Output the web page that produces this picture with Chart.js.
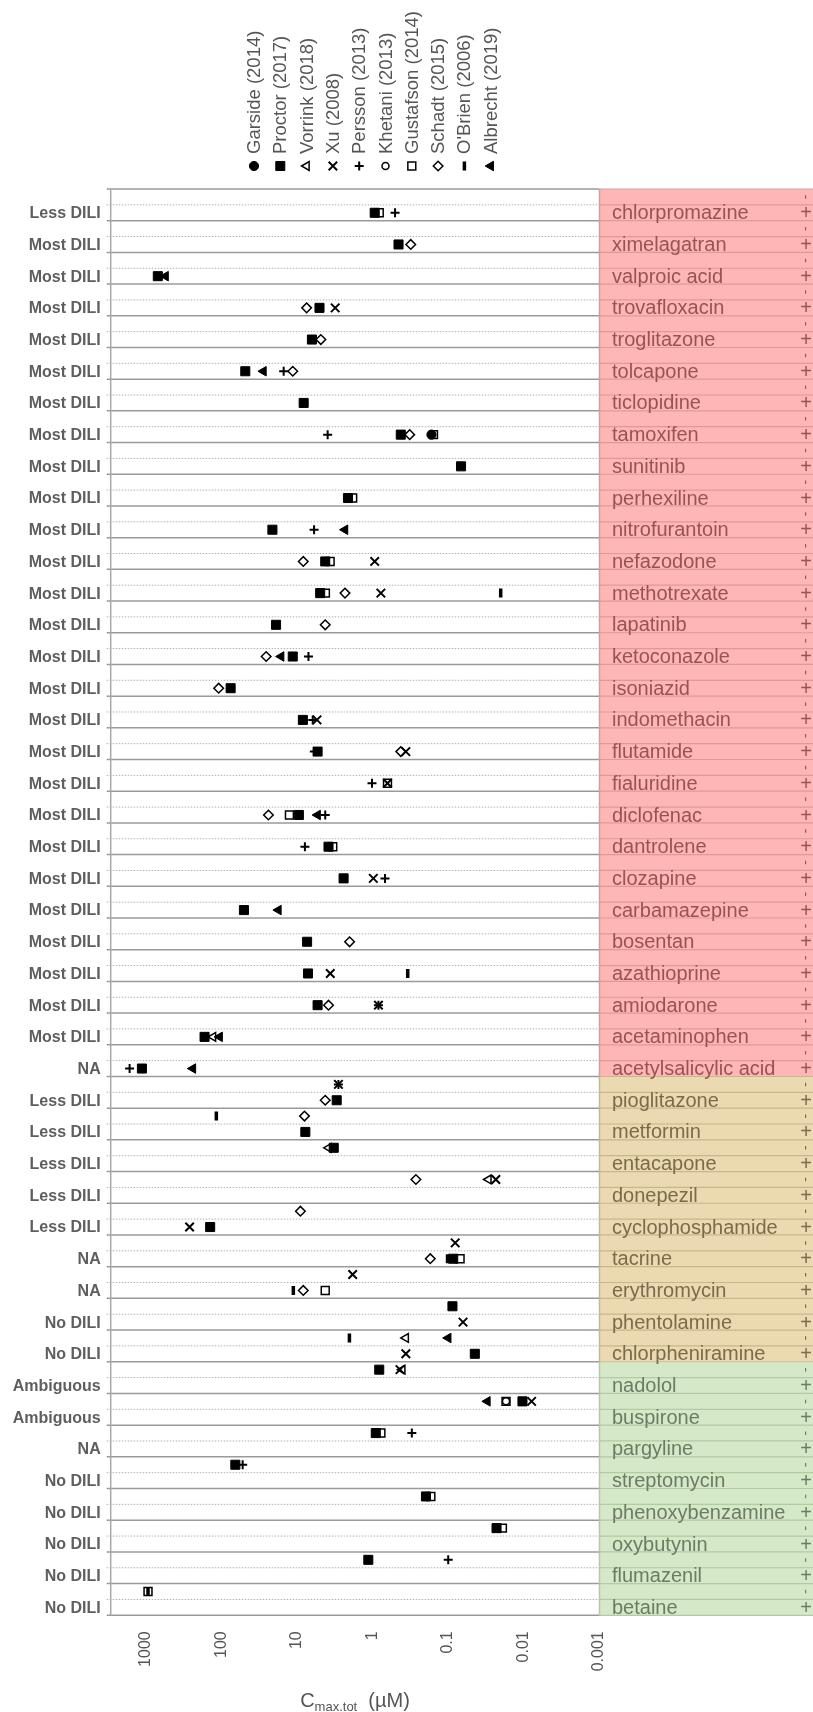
<!DOCTYPE html>
<html>
<head>
<meta charset="utf-8">
<script src="https://cdn.jsdelivr.net/npm/chart.js@4"></script>
<style>
  html, body { margin: 0; padding: 0; background: #fff; }
  #wrap { width: 813px; height: 1712px; }
</style>
</head>
<body>
<div id="wrap"><canvas id="chart"></canvas></div>
<script>
// drugs from top to bottom, each one has a "-" row and a "+" row
var drugs = [
    'chlorpromazine', 'ximelagatran', 'valproic acid', 'trovafloxacin', 'troglitazone',
    'tolcapone', 'ticlopidine', 'tamoxifen', 'sunitinib', 'perhexiline',
    'nitrofurantoin', 'nefazodone', 'methotrexate', 'lapatinib', 'ketoconazole',
    'isoniazid', 'indomethacin', 'flutamide', 'fialuridine', 'diclofenac',
    'dantrolene', 'clozapine', 'carbamazepine', 'bosentan', 'azathioprine',
    'amiodarone', 'acetaminophen', 'acetylsalicylic acid',
    'pioglitazone', 'metformin', 'entacapone', 'donepezil', 'cyclophosphamide',
    'tacrine', 'erythromycin', 'phentolamine', 'chlorpheniramine',
    'nadolol', 'buspirone', 'pargyline', 'streptomycin', 'phenoxybenzamine',
    'oxybutynin', 'flumazenil', 'betaine',
];
var diliLabels = [
    'Less DILI', 'Most DILI', 'Most DILI', 'Most DILI', 'Most DILI',
    'Most DILI', 'Most DILI', 'Most DILI', 'Most DILI', 'Most DILI',
    'Most DILI', 'Most DILI', 'Most DILI', 'Most DILI', 'Most DILI',
    'Most DILI', 'Most DILI', 'Most DILI', 'Most DILI', 'Most DILI',
    'Most DILI', 'Most DILI', 'Most DILI', 'Most DILI', 'Most DILI',
    'Most DILI', 'Most DILI', 'NA',
    'Less DILI', 'Less DILI', 'Less DILI', 'Less DILI', 'Less DILI',
    'NA', 'NA', 'No DILI', 'No DILI',
    'Ambiguous', 'Ambiguous', 'NA', 'No DILI', 'No DILI',
    'No DILI', 'No DILI', 'No DILI',
];
// how many drugs sit in the red, tan and green blocks
var groupSizes = [28, 9, 8];

var studies = [
    'Garside (2014)', 'Proctor (2017)', 'Vorrink (2018)', 'Xu (2008)', 'Persson (2013)',
    'Khetani (2013)', 'Gustafson (2014)', 'Schadt (2015)', "O'Brien (2006)", 'Albrecht (2019)',
];

var xTicks = [1000, 100, 10, 1, 0.1, 0.01, 0.001];

// [drug, row, Cmax,tot in uM]
var garside = [
    ['tamoxifen', '+', 0.165],
];
var proctor = [
    ['chlorpromazine', '+', 0.93], ['ximelagatran', '+', 0.45], ['valproic acid', '+', 690],
    ['trovafloxacin', '+', 5.0], ['troglitazone', '+', 6.3], ['tolcapone', '+', 48],
    ['ticlopidine', '+', 8.1], ['tamoxifen', '+', 0.42], ['sunitinib', '+', 0.067],
    ['perhexiline', '+', 2.1], ['nitrofurantoin', '+', 21], ['nefazodone', '+', 4.2],
    ['methotrexate', '+', 4.9], ['lapatinib', '+', 18.8], ['ketoconazole', '+', 11.3],
    ['isoniazid', '+', 75], ['indomethacin', '+', 8.3], ['flutamide', '+', 5.3],
    ['diclofenac', '+', 9.4], ['dantrolene', '+', 3.8], ['clozapine', '+', 2.4],
    ['carbamazepine', '+', 50], ['bosentan', '+', 7.3], ['azathioprine', '+', 7.1],
    ['amiodarone', '+', 5.3], ['acetaminophen', '+', 166], ['acetylsalicylic acid', '+', 1120],
    ['pioglitazone', '+', 2.96], ['metformin', '+', 7.7], ['entacapone', '-', 3.24],
    ['cyclophosphamide', '+', 140], ['tacrine', '+', 0.085], ['phentolamine', '-', 0.087],
    ['chlorpheniramine', '+', 0.044], ['nadolol', '-', 0.81], ['buspirone', '-', 0.0103],
    ['pargyline', '-', 0.9], ['streptomycin', '-', 65], ['phenoxybenzamine', '-', 0.195],
    ['oxybutynin', '-', 0.0227], ['flumazenil', '-', 1.13],
];
var vorrink = [
    ['acetaminophen', '+', 128], ['entacapone', '-', 3.78], ['donepezil', '-', 0.029],
    ['chlorpheniramine', '-', 0.36], ['nadolol', '-', 0.40],
];
var xu = [
    ['trovafloxacin', '+', 3.1], ['nefazodone', '+', 0.93], ['methotrexate', '+', 0.77],
    ['indomethacin', '+', 5.4], ['flutamide', '+', 0.36], ['fialuridine', '+', 0.63],
    ['clozapine', '+', 0.97], ['azathioprine', '+', 3.6], ['amiodarone', '+', 0.83],
    ['pioglitazone', '-', 2.81], ['donepezil', '-', 0.0232], ['cyclophosphamide', '+', 262],
    ['tacrine', '-', 0.080], ['erythromycin', '-', 1.82], ['phentolamine', '+', 0.063],
    ['chlorpheniramine', '+', 0.36], ['nadolol', '-', 0.43], ['buspirone', '-', 0.0078],
];
var persson = [
    ['chlorpromazine', '+', 0.50], ['tolcapone', '+', 14.9], ['tamoxifen', '+', 3.9],
    ['nitrofurantoin', '+', 5.9], ['ketoconazole', '+', 7.0], ['indomethacin', '+', 6.15],
    ['flutamide', '+', 5.85], ['fialuridine', '+', 1.01], ['diclofenac', '+', 4.2],
    ['dantrolene', '+', 7.8], ['clozapine', '+', 0.68], ['amiodarone', '+', 0.83],
    ['acetylsalicylic acid', '+', 1630], ['pioglitazone', '-', 2.81], ['streptomycin', '-', 52],
    ['pargyline', '-', 0.30], ['flumazenil', '-', 0.099],
];
var khetani = [
    ['buspirone', '-', 0.017],
];
var gustafson = [
    ['chlorpromazine', '+', 0.81], ['tamoxifen', '+', 0.155], ['perhexiline', '+', 1.82],
    ['nefazodone', '+', 3.62], ['methotrexate', '+', 4.18], ['fialuridine', '+', 0.63],
    ['diclofenac', '+', 12.5], ['dantrolene', '+', 3.34], ['tacrine', '+', 0.069],
    ['erythromycin', '+', 4.2], ['buspirone', '-', 0.017], ['pargyline', '-', 0.77],
    ['phenoxybenzamine', '-', 0.168], ['oxybutynin', '-', 0.019], ['betaine', '-', 930],
];
var schadt = [
    ['ximelagatran', '+', 0.31], ['trovafloxacin', '+', 7.4], ['troglitazone', '+', 4.8],
    ['tolcapone', '+', 11.3], ['tamoxifen', '+', 0.32], ['nefazodone', '+', 8.2],
    ['methotrexate', '+', 2.3], ['lapatinib', '+', 4.2], ['ketoconazole', '+', 25.4],
    ['isoniazid', '+', 108], ['flutamide', '+', 0.42], ['diclofenac', '+', 23.7],
    ['bosentan', '+', 2.0], ['amiodarone', '+', 3.8], ['pioglitazone', '+', 4.2],
    ['metformin', '-', 7.9], ['donepezil', '-', 0.265], ['cyclophosphamide', '-', 8.95],
    ['tacrine', '+', 0.171], ['erythromycin', '+', 8.2],
];
var obrien = [
    ['methotrexate', '+', 0.020], ['diclofenac', '+', 8.6], ['azathioprine', '+', 0.34],
    ['metformin', '-', 116], ['tacrine', '+', 0.101], ['erythromycin', '+', 11.1],
    ['chlorpheniramine', '-', 2.01], ['betaine', '-', 930],
];
var albrecht = [
    ['valproic acid', '+', 545], ['tolcapone', '+', 27.6], ['nitrofurantoin', '+', 2.3],
    ['ketoconazole', '+', 16.1], ['diclofenac', '+', 5.3], ['carbamazepine', '+', 17.5],
    ['acetaminophen', '+', 105], ['acetylsalicylic acid', '+', 237],
    ['chlorpheniramine', '-', 0.099], ['buspirone', '-', 0.030],
];

var series = [garside, proctor, vorrink, xu, persson, khetani, gustafson, schadt, obrien, albrecht];

// marker look for each study, same order as studies
var markers = [
    { style: 'circle', radius: 4.6, rotation: 0, fill: '#000', lw: 1, order: 2 },
    { style: 'rect', radius: 6.4, rotation: 0, fill: '#000', lw: 1, order: 3 },
    { style: 'triangle', radius: 5, rotation: -90, fill: '#fff', lw: 1.5, order: 4 },
    { style: 'crossRot', radius: 6, rotation: 0, fill: '#000', lw: 2, order: 1 },
    { style: 'cross', radius: 4.5, rotation: 0, fill: '#000', lw: 2, order: 0 },
    { style: 'circle', radius: 3.5, rotation: 0, fill: '#fff', lw: 1.5, order: 2 },
    { style: 'rect', radius: 5.6, rotation: 0, fill: '#fff', lw: 1.5, order: 5 },
    { style: 'rectRot', radius: 4.8, rotation: 0, fill: '#fff', lw: 1.5, order: 4 },
    { style: 'line', radius: 4.5, rotation: 90, fill: '#000', lw: 3.5, order: 1 },
    { style: 'triangle', radius: 5.5, rotation: -90, fill: '#000', lw: 1, order: 2 },
];

var panelFill = ['#ffb6b6', '#ead9b1', '#d5e8c8'];
var panelLine = ['#e09898', '#cbb68a', '#b1cba2'];
var panelText = ['#9a5252', '#7b6a4b', '#6b7c63'];

function rowOf(drug, sign) {
    return 2 * drugs.indexOf(drug) + (sign === '+' ? 1 : 0);
}

function groupOf(drugIndex) {
    var n = 0;
    for (var g = 0; g < groupSizes.length; g++) {
        n += groupSizes[g];
        if (drugIndex < n) return g;
    }
    return groupSizes.length - 1;
}

function drawMarker(ctx, m, px, py) {
    ctx.save();
    ctx.fillStyle = m.fill;
    ctx.strokeStyle = '#000';
    ctx.lineWidth = m.lw;
    if (m.style === 'line') {
        // vertical bar, drawn by hand for the legend
        ctx.beginPath();
        ctx.moveTo(px, py - m.radius);
        ctx.lineTo(px, py + m.radius);
        ctx.stroke();
    } else {
        Chart.helpers.drawPoint(ctx, { pointStyle: m.style, radius: m.radius, rotation: m.rotation, borderWidth: m.lw }, px, py);
    }
    ctx.restore();
}

var FONT = '"Liberation Sans", Arial, sans-serif';

var backdrop = {
    id: 'backdrop',
    beforeDatasetsDraw: function (chart) {
        var ctx = chart.ctx;
        var a = chart.chartArea;
        var y = chart.scales.y;
        var W = chart.width;
        var rows = drugs.length * 2;
        ctx.save();

        // coloured panel on the right
        var start = 0;
        groupSizes.forEach(function (n, g) {
            var top = y.getPixelForValue(2 * start - 0.5);
            var bot = y.getPixelForValue(2 * (start + n) - 0.5);
            ctx.fillStyle = panelFill[g];
            ctx.fillRect(a.right, top, W - a.right, bot - top);
            start += n;
        });
        for (var k = 0; k <= rows; k++) {
            var py = y.getPixelForValue(k - 0.5);
            var g = groupOf(Math.min(Math.floor(k / 2), drugs.length - 1));
            ctx.beginPath();
            ctx.strokeStyle = panelLine[g];
            ctx.lineWidth = 1.2;
            ctx.moveTo(a.right, py);
            ctx.lineTo(W, py);
            ctx.stroke();
        }
        start = 0;
        groupSizes.forEach(function (n, g) {
            ctx.beginPath();
            ctx.strokeStyle = panelLine[g];
            ctx.lineWidth = 1.5;
            ctx.moveTo(a.right + 0.5, y.getPixelForValue(2 * start - 0.5));
            ctx.lineTo(a.right + 0.5, y.getPixelForValue(2 * (start + n) - 0.5));
            ctx.stroke();
            start += n;
        });

        // row lines in the plot
        for (var k2 = 0; k2 <= rows; k2++) {
            var ly = y.getPixelForValue(k2 - 0.5);
            var solid = k2 % 2 === 0;
            ctx.beginPath();
            ctx.setLineDash(solid ? [] : [1.5, 1.5]);
            ctx.strokeStyle = solid ? '#9a9a9a' : '#b0b0b0';
            ctx.lineWidth = solid ? 1.5 : 1;
            ctx.moveTo(a.left - 4, ly);
            ctx.lineTo(a.right, ly);
            ctx.stroke();
        }
        ctx.setLineDash([]);
        ctx.beginPath();
        ctx.strokeStyle = '#a8a8a8';
        ctx.lineWidth = 1.5;
        ctx.moveTo(a.left, a.top);
        ctx.lineTo(a.left, a.bottom);
        ctx.stroke();

        // labels either side
        ctx.textBaseline = 'middle';
        drugs.forEach(function (name, d) {
            var g = groupOf(d);
            var yPlus = y.getPixelForValue(2 * d + 1);
            var yMinus = y.getPixelForValue(2 * d);
            ctx.font = 'bold 16px ' + FONT;
            ctx.fillStyle = '#5e5e5e';
            ctx.textAlign = 'right';
            ctx.fillText(diliLabels[d], a.left - 10, yPlus + 1);

            ctx.font = '20px ' + FONT;
            ctx.fillStyle = panelText[g];
            ctx.textAlign = 'left';
            ctx.fillText(name, a.right + 13, yPlus + 1);
            ctx.textAlign = 'center';
            ctx.fillText('+', W - 7, yPlus + 1);

            ctx.save();
            ctx.translate(W - 7, yMinus);
            ctx.rotate(-Math.PI / 2);
            ctx.font = '14px ' + FONT;
            ctx.fillText('-', 0, 0);
            ctx.restore();
        });

        // legend above the plot
        studies.forEach(function (name, i) {
            var lx = 254 + i * 26.3;
            drawMarker(ctx, markers[i], lx, 166);
            ctx.save();
            ctx.translate(lx, 154);
            ctx.rotate(-Math.PI / 2);
            ctx.font = '18.5px ' + FONT;
            ctx.fillStyle = '#555';
            ctx.textAlign = 'left';
            ctx.textBaseline = 'middle';
            ctx.fillText(name, 0, 1);
            ctx.restore();
        });

        // x axis title, C with subscript
        ctx.fillStyle = '#555';
        ctx.textAlign = 'left';
        ctx.textBaseline = 'alphabetic';
        var big = '20px ' + FONT;
        var small = '13px ' + FONT;
        ctx.font = big;
        var wC = ctx.measureText('C').width;
        var wU = ctx.measureText('  (\u00b5M)').width;
        ctx.font = small;
        var wS = ctx.measureText('max.tot').width;
        var tx = 355 - (wC + wS + wU) / 2;
        var base = 1707;
        ctx.font = big;
        ctx.fillText('C', tx, base);
        ctx.font = small;
        ctx.fillText('max.tot', tx + wC, base + 4);
        ctx.font = big;
        ctx.fillText('  (\u00b5M)', tx + wC + wS, base);

        ctx.restore();
    },
};

var ctx = document.getElementById('chart').getContext('2d');

var chart = new Chart(ctx, {
    type: 'scatter',
    data: {
        datasets: series.map(function (pts, i) {
            var m = markers[i];
            return {
                label: studies[i],
                data: pts.map(function (p) { return { x: p[2], y: rowOf(p[0], p[1]) }; }),
                pointStyle: m.style,
                pointRadius: m.radius,
                pointHoverRadius: m.radius,
                pointRotation: m.rotation,
                pointBackgroundColor: m.fill,
                pointBorderColor: '#000',
                pointBorderWidth: m.lw,
                order: m.order,
            };
        }),
    },
    options: {
        responsive: true,
        maintainAspectRatio: false,
        animation: false,
        events: [],
        layout: {
            padding: { left: 110.7, right: 214, top: 189, bottom: 0 },
        },
        plugins: {
            legend: { display: false },
            tooltip: { enabled: false },
        },
        scales: {
            x: {
                type: 'logarithmic',
                reverse: true,
                min: 0.001,
                max: 2900,
                grid: { display: false, drawTicks: false },
                border: { display: false },
                afterBuildTicks: function (scale) {
                    scale.ticks = xTicks.map(function (v) { return { value: v }; });
                },
                afterFit: function (scale) {
                    scale.height = 96.7;
                },
                ticks: {
                    autoSkip: false,
                    minRotation: 90,
                    maxRotation: 90,
                    padding: 16,
                    color: '#555',
                    font: { family: FONT, size: 16 },
                    callback: function (value) { return String(value); },
                },
            },
            y: {
                type: 'linear',
                display: false,
                reverse: true,
                min: -0.5,
                max: drugs.length * 2 - 0.5,
            },
        },
    },
    plugins: [backdrop],
});
</script>
</body>
</html>
